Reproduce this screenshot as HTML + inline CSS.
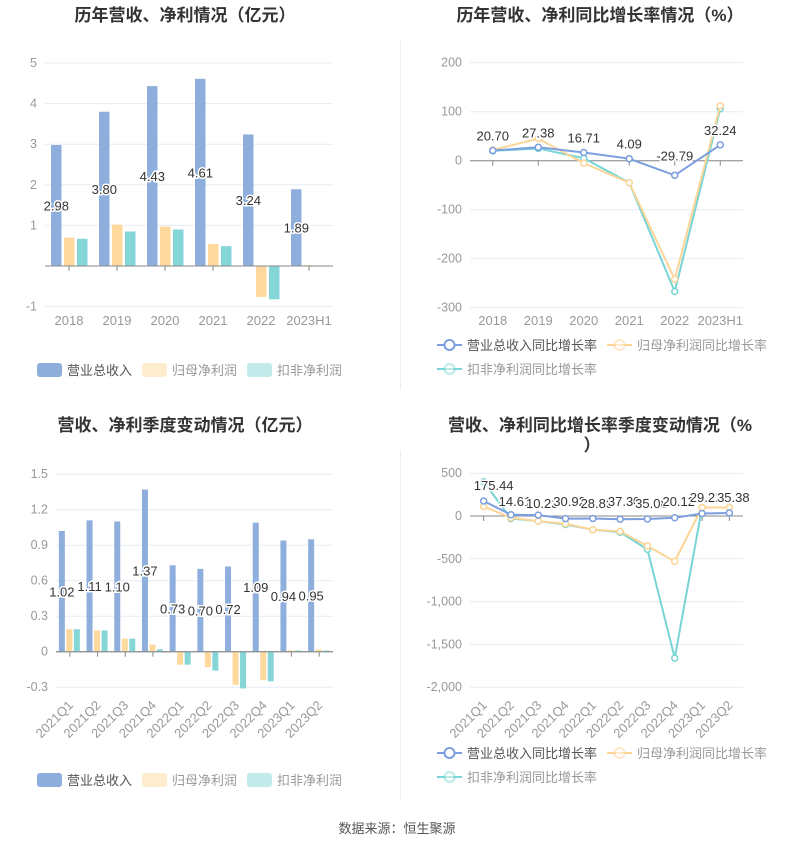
<!DOCTYPE html>
<html><head><meta charset="utf-8">
<style>
body{margin:0;background:#fff;width:795px;height:850px;overflow:hidden;font-family:"Liberation Sans","Noto Sans CJK SC",sans-serif}
svg text{font-family:"Liberation Sans","Noto Sans CJK SC",sans-serif}
</style></head><body>
<svg id="s" width="795" height="850" xmlns="http://www.w3.org/2000/svg"></svg>
<script>
const B='#8eaedb',O='#fdd99d',C='#86d6d8',BL='#7b9ede',OL='#fcd597',CL='#78d4d5';
let h='';
function t(x,y,s,o={}){h+=`<text x="${x}" y="${y}" font-size="${o.fs||12.5}" fill="${o.c||'#999'}" text-anchor="${o.a||'middle'}" ${o.w?'font-weight="bold"':''} ${o.tr?`transform="${o.tr}"`:''} ${o.st?'stroke="#fff" stroke-width="3" paint-order="stroke"':''}>${s}</text>`;}
function l(x1,y1,x2,y2,c,w=1){h+=`<line x1="${x1}" y1="${y1}" x2="${x2}" y2="${y2}" stroke="${c}" stroke-width="${w}"/>`;}
function r(x,y,w,hh,c){if(hh<0){y+=hh;hh=-hh;}h+=`<rect x="${x}" y="${y}" width="${w}" height="${hh}" fill="${c}"/>`;}
function axes(x0,x1,ticks,ymap,zeroY,n,labs,rot,labY){
 ticks.forEach(v=>{let y=ymap(v[0]);l(x0,y,x1,y,'#e6ebf5');t(x0-8,y+4,v[1],{a:'end'});});
 l(x0,zeroY,x1,zeroY,'#888');
 let w=(x1-x0)/n;
 for(let i=0;i<n;i++){let cx=x0+w*(i+.5);l(cx,zeroY,cx,zeroY+5,'#888');
  if(rot)t(cx+4,labY,labs[i],{a:'end',fs:13,tr:`rotate(-45 ${cx+4} ${labY})`});else t(cx,labY,labs[i],{fs:13});}
}
function legBar(x,y){[[B,'营业总收入'],[O,'归母净利润'],[C,'扣非净利润']].forEach((a,i)=>{let xx=x+i*105;h+=`<rect x="${xx}" y="${y-5}" width="25" height="14" rx="3" fill="${a[0]}" opacity="${i?0.5:1}"/>`;t(xx+30,y+7,a[1],{a:'start',fs:13,c:i?'#999':'#555'});});}
function legLine(x,y){[[BL,'营业总收入同比增长率',x,y],[OL,'归母净利润同比增长率',x+170,y],[CL,'扣非净利润同比增长率',x,y+24]].forEach((a,i)=>{l(a[2],a[3],a[2]+25,a[3],a[0],2);h+=`<circle cx="${a[2]+12.5}" cy="${a[3]}" r="5" fill="#fff" stroke="${a[0]}" stroke-width="2" opacity="${i?0.5:1}"/>`;t(a[2]+30,a[3]+5,a[1],{a:'start',fs:13,c:i?'#999':'#555'});});}
t(185,21,'历年营收、净利情况（亿元）',{fs:17,w:1,c:'#333'});
t(600,21,'历年营收、净利同比增长率情况（%）',{fs:17,w:1,c:'#333'});
t(185,431,'营收、净利季度变动情况（亿元）',{fs:17,w:1,c:'#333'});
t(600,431,'营收、净利同比增长率季度变动情况（%',{fs:17,w:1,c:'#333'});
t(592,451,'）',{fs:17,w:1,c:'#333'});
l(400.5,40,400.5,390,'#eee');l(400.5,450,400.5,800,'#eee');
t(397,833,'数据来源：恒生聚源',{fs:13,c:'#555'});
{let y=v=>266-v*40.6;axes(45,333,[[5,'5'],[4,'4'],[3,'3'],[2,'2'],[1,'1'],[-1,'-1']],y,266,6,['2018','2019','2020','2021','2022','2023H1'],0,325);
 let R=[2.98,3.80,4.43,4.61,3.24,1.89],N=[0.70,1.02,0.97,0.54,-0.76,0.02],D=[0.67,0.85,0.90,0.49,-0.82,0.01];
 for(let i=0;i<6;i++){let cx=45+48*(i+.5);r(cx-18,266,10.5,-R[i]*40.6,B);r(cx-5,266,10.5,-N[i]*40.6,O);r(cx+8,266,10.5,-D[i]*40.6,C);}
 l(45,266,333,266,'#888');
 for(let i=0;i<6;i++){let cx=45+48*(i+.5);t(cx-12.7,266-R[i]*20.3+5,R[i].toFixed(2),{fs:13,c:'#333',st:1});}
 legBar(37,368);}
{let y=v=>160.7-v*0.49;axes(470,743,[[200,'200'],[100,'100'],[0,'0'],[-100,'-100'],[-200,'-200'],[-300,'-300']],y,160.7,6,['2018','2019','2020','2021','2022','2023H1'],0,325);
 let R=[20.70,27.38,16.71,4.09,-29.79,32.24],N=[22,45,-5,-45,-242,112],D=[20,25,5,-45,-267,106];
 [[D,CL],[N,OL],[R,BL]].forEach(s=>{let p=s[0].map((v,i)=>[470+45.5*(i+.5),y(v)]);h+=`<polyline points="${p.join(' ')}" fill="none" stroke="${s[1]}" stroke-width="2"/>`;p.forEach(q=>h+=`<circle cx="${q[0]}" cy="${q[1]}" r="3" fill="#fff" stroke="${s[1]}" stroke-width="1.5"/>`);});
 R.forEach((v,i)=>t(470+45.5*(i+.5),y(v)-10+(v<0?-5:0),v.toFixed(2),{fs:13,c:'#333',st:1}));
 legLine(437,345);}
{let k=35.5/0.3,z=651.7;axes(56,333,[[1.5,'1.5'],[1.2,'1.2'],[0.9,'0.9'],[0.6,'0.6'],[0.3,'0.3'],[0,'0'],[-0.3,'-0.3']],v=>z-v*k,z,10,['2021Q1','2021Q2','2021Q3','2021Q4','2022Q1','2022Q2','2022Q3','2022Q4','2023Q1','2023Q2'],1,706);
 let R=[1.02,1.11,1.10,1.37,0.73,0.70,0.72,1.09,0.94,0.95],N=[0.19,0.18,0.11,0.06,-0.11,-0.13,-0.28,-0.24,0.01,0.02],D=[0.19,0.18,0.11,0.02,-0.11,-0.16,-0.31,-0.25,0.01,0.01];
 let w=27.7;
 for(let i=0;i<10;i++){let cx=56+w*(i+.5);r(cx-11,z,6,-R[i]*k,B);r(cx-3.5,z,6,-N[i]*k,O);r(cx+4,z,6,-D[i]*k,C);}
 l(56,z,333,z,'#888');
 for(let i=0;i<10;i++){let cx=56+w*(i+.5);t(cx-8,z-R[i]*k/2+5,R[i].toFixed(2),{fs:13,c:'#333',st:1});}
 legBar(37,778);}
{let k=42.8/500,z=516;let y=v=>z-v*k;axes(470,743,[[500,'500'],[0,'0'],[-500,'-500'],[-1000,'-1,000'],[-1500,'-1,500'],[-2000,'-2,000']],y,z,10,['2021Q1','2021Q2','2021Q3','2021Q4','2022Q1','2022Q2','2022Q3','2022Q4','2023Q1','2023Q2'],1,706);
 let R=[175.44,14.61,10.23,-30.92,-28.85,-37.30,-35.08,-20.12,29.22,35.38],N=[110,-20,-60,-90,-160,-180,-350,-530,100,100],D=[400,-30,-60,-100,-160,-190,-390,-1660,100,100];
 let w=27.3;
 [[D,CL],[N,OL],[R,BL]].forEach(s=>{let p=s[0].map((v,i)=>[470+w*(i+.5),y(v)]);h+=`<polyline points="${p.join(' ')}" fill="none" stroke="${s[1]}" stroke-width="2"/>`;p.forEach(q=>h+=`<circle cx="${q[0]}" cy="${q[1]}" r="3" fill="#fff" stroke="${s[1]}" stroke-width="1.5"/>`);});
 let L=['175.44','14.61','10.23','30.92','28.85','37.30','35.08','20.12','29.22','35.38'];
 L.forEach((s,i)=>t(470+w*(i+.5)+(i==0?10:4),i==0?490:(i>=8?502:506+(i%2?0:2)),s,{fs:13,c:'#333',st:1}));
 legLine(437,753);}
document.getElementById('s').innerHTML=h;
</script>
</body></html>
